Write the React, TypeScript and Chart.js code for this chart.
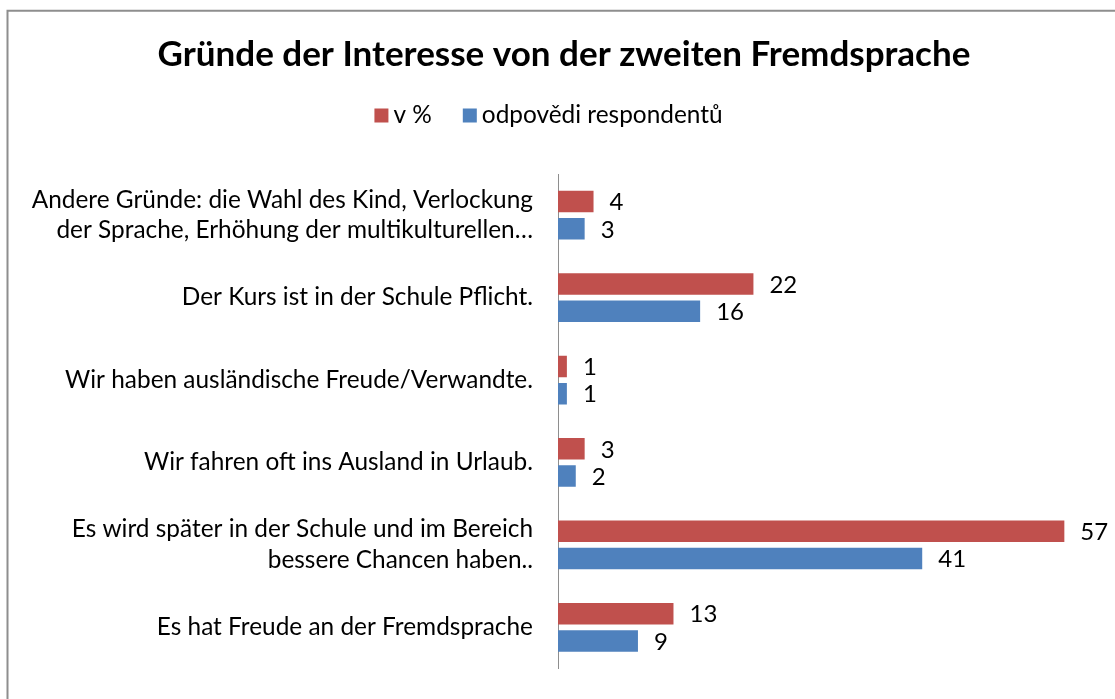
import React, { useEffect, useRef } from "react";
import { Chart, registerables } from "chart.js";

Chart.register(...registerables);

const titleText = "Gründe der Interesse von der zweiten Fremdsprache";
const categories: (string | string[])[] = [
  ["Andere Gründe: die Wahl des Kind, Verlockung", "der Sprache, Erhöhung der multikulturellen…"],
  "Der Kurs ist in der Schule Pflicht.",
  "Wir haben ausländische Freude/Verwandte.",
  "Wir fahren oft ins Ausland in Urlaub.",
  ["Es wird später in der Schule und im Bereich", "bessere Chancen haben.."],
  "Es hat Freude an der Fremdsprache",
];
const seriesNames = ["v %", "odpovědi respondentů"];
const percentValues = [4, 22, 1, 3, 57, 13];
const respondentValues = [3, 16, 1, 2, 41, 9];

const FONT = "Lato, 'Noto Sans', sans-serif";

const decorations = {
  id: "decorations",
  beforeDraw(chart: any) {
    const ctx = chart.ctx;
    ctx.save();
    ctx.fillStyle = "#ffffff";
    ctx.fillRect(0, 0, chart.width, chart.height);
    // outer frame
    ctx.strokeStyle = "#8e8e8e";
    ctx.lineWidth = 2;
    ctx.beginPath();
    ctx.moveTo(7.5, chart.height + 5);
    ctx.lineTo(7.5, 10.7);
    ctx.lineTo(chart.width + 5, 10.7);
    ctx.stroke();
    // title
    ctx.fillStyle = "#000000";
    ctx.font = `bold 35px ${FONT}`;
    ctx.textAlign = "center";
    ctx.textBaseline = "alphabetic";
    ctx.fillText(titleText, 564, 66);
    // legend
    ctx.font = `24.4px ${FONT}`;
    ctx.textAlign = "left";
    const box = 14;
    const gapText = 5;
    const gapItem = 31;
    const items = chart.data.datasets.map((ds: any) => ({
      text: ds.label,
      color: ds.backgroundColor,
      w: ctx.measureText(ds.label).width,
    }));
    let total = 0;
    items.forEach((it: any, i: number) => {
      total += box + gapText + it.w + (i < items.length - 1 ? gapItem : 0);
    });
    let x = 548.5 - total / 2;
    items.forEach((it: any) => {
      ctx.fillStyle = it.color;
      ctx.fillRect(x, 108.5, box, box);
      ctx.fillStyle = "#000000";
      ctx.fillText(it.text, x + box + gapText, 123);
      x += box + gapText + it.w + gapItem;
    });
    ctx.restore();
  },
  afterDatasetsDraw(chart: any) {
    const ctx = chart.ctx;
    ctx.save();
    ctx.font = `24px ${FONT}`;
    ctx.fillStyle = "#000000";
    ctx.textAlign = "left";
    ctx.textBaseline = "middle";
    chart.data.datasets.forEach((ds: any, di: number) => {
      const meta = chart.getDatasetMeta(di);
      meta.data.forEach((bar: any, i: number) => {
        ctx.fillText(String(ds.data[i]), bar.x + 16, bar.y + 1);
      });
    });
    ctx.restore();
  },
};

export default function App() {
  const ref = useRef<HTMLCanvasElement | null>(null);
  useEffect(() => {
    document.body.style.margin = "0";
    const canvas = ref.current!;
    const chart = new Chart(canvas, {
      type: "bar",
      data: {
        labels: categories,
        datasets: [
          {
            label: seriesNames[0],
            data: percentValues,
            backgroundColor: "#C0504D",
            borderWidth: 0,
            categoryPercentage: 0.66,
            barPercentage: 0.79,
          },
          {
            label: seriesNames[1],
            data: respondentValues,
            backgroundColor: "#4F81BD",
            borderWidth: 0,
            categoryPercentage: 0.66,
            barPercentage: 0.79,
          },
        ],
      },
      options: {
        indexAxis: "y",
        responsive: false,
        animation: false,
        layout: { padding: { left: 8, right: 24, top: 174, bottom: 29 } },
        plugins: {
          title: { display: false },
          legend: { display: false },
          tooltip: { enabled: false },
        },
        scales: {
          x: {
            display: false,
            min: 0,
            max: 60,
          },
          y: {
            grid: { display: false, drawTicks: true, tickLength: 25 },
            border: { display: true, color: "#8e8e8e", width: 1 },
            ticks: {
              color: "#000000",
              font: { family: FONT, size: 24.4, lineHeight: 1.25 },
              padding: 0,
            },
            afterFit: (scale: any) => {
              scale.width = 550;
            },
          },
        },
      },
      plugins: [decorations],
    });
    return () => chart.destroy();
  }, []);
  return (
    <div style={{ position: "absolute", left: 0, top: 0, width: 1115, height: 699 }}>
      <canvas ref={ref} width={1115} height={699} style={{ display: "block" }} />
    </div>
  );
}
